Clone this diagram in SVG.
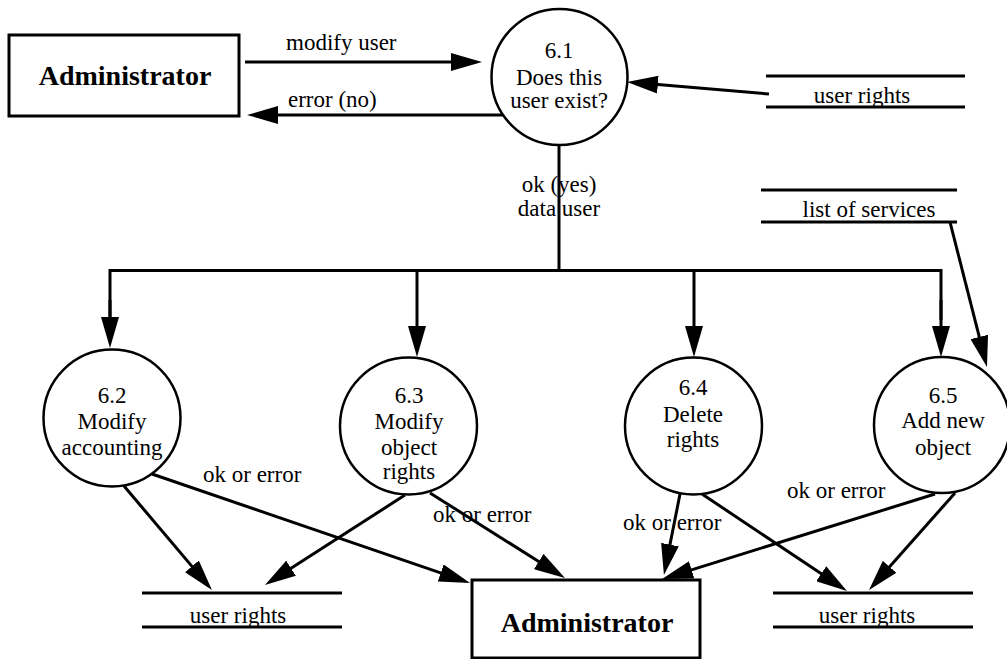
<svg xmlns="http://www.w3.org/2000/svg" width="1007" height="659" viewBox="0 0 1007 659" font-family="Liberation Serif, DejaVu Serif, serif">
  <style>
    text { font-family: 'Liberation Serif', 'DejaVu Serif', serif; font-size: 23px; fill: #000; }
    .c { text-anchor: middle; }
    .ent { font-size: 28px; font-weight: bold; text-anchor: middle; }
    .box { fill: #fff; stroke: #000; stroke-width: 3; }
    .proc { fill: #fff; stroke: #000; stroke-width: 2.5; }
    .store { stroke: #000; stroke-width: 3; }
    .flow { fill: none; stroke: #000; stroke-width: 3; }
    .arr { marker-end: url(#head); }
  </style>
  <defs>
    <marker id="head" markerUnits="userSpaceOnUse" markerWidth="31" markerHeight="18" refX="6" refY="9" orient="auto">
      <path d="M0,0 L31,9 L0,18 z" fill="#000"/>
    </marker>
  </defs>

  <!-- external entities -->
  <g id="admin-top">
    <rect class="box" x="9" y="35" width="230" height="81"/>
    <text class="ent" x="125" y="85">Administrator</text>
  </g>
  <g id="admin-bottom">
    <rect class="box" x="472" y="580" width="228" height="78"/>
    <text class="ent" x="587" y="632">Administrator</text>
  </g>

  <!-- processes -->
  <g id="p61">
    <circle class="proc" cx="559.5" cy="77" r="68"/>
    <text class="c" x="559" y="58">6.1</text>
    <text class="c" x="559" y="85">Does this</text>
    <text class="c" x="559" y="108">user exist?</text>
  </g>
  <g id="p62">
    <circle class="proc" cx="112" cy="418" r="68.5"/>
    <text class="c" x="112" y="403">6.2</text>
    <text class="c" x="112" y="429">Modify</text>
    <text class="c" x="112" y="455">accounting</text>
  </g>
  <g id="p63">
    <circle class="proc" cx="408.5" cy="426" r="68.5"/>
    <text class="c" x="409" y="403">6.3</text>
    <text class="c" x="409" y="429">Modify</text>
    <text class="c" x="409" y="455">object</text>
    <text class="c" x="409" y="479">rights</text>
  </g>
  <g id="p64">
    <circle class="proc" cx="693.5" cy="426" r="68.5"/>
    <text class="c" x="693" y="395">6.4</text>
    <text class="c" x="693" y="422">Delete</text>
    <text class="c" x="693" y="447">rights</text>
  </g>
  <g id="p65">
    <circle class="proc" cx="942" cy="425" r="68"/>
    <text class="c" x="943" y="403">6.5</text>
    <text class="c" x="943" y="428">Add new</text>
    <text class="c" x="943" y="455">object</text>
  </g>

  <!-- data stores -->
  <g id="store-rights-top">
    <line class="store" x1="766" y1="76" x2="965" y2="76"/>
    <line class="store" x1="766" y1="107" x2="965" y2="107"/>
    <text class="c" x="862" y="103">user rights</text>
  </g>
  <g id="store-services">
    <line class="store" x1="761" y1="190" x2="957" y2="190"/>
    <line class="store" x1="761" y1="222" x2="957" y2="222"/>
    <text class="c" x="869" y="217">list of services</text>
  </g>
  <g id="store-rights-left">
    <line class="store" x1="142" y1="593" x2="342" y2="593"/>
    <line class="store" x1="142" y1="627" x2="342" y2="627"/>
    <text class="c" x="238" y="623">user rights</text>
  </g>
  <g id="store-rights-right">
    <line class="store" x1="773" y1="593" x2="973" y2="593"/>
    <line class="store" x1="773" y1="627" x2="973" y2="627"/>
    <text class="c" x="867" y="623">user rights</text>
  </g>

  <!-- data flows -->
  <g id="flows">
    <line class="flow arr" x1="245" y1="62" x2="457" y2="62"/>
    <line class="flow arr" x1="503" y1="115" x2="272" y2="115"/>
    <line class="flow arr" x1="769" y1="94" x2="651.9" y2="84.1"/>

    <!-- fan-out from 6.1 -->
    <line class="flow" x1="559" y1="145" x2="559" y2="270.5"/>
    <polyline class="flow" points="110,332 110,270.5 941,270.5 941,320"/>
    <line class="flow arr" x1="110" y1="300" x2="110" y2="323"/>
    <line class="flow arr" x1="417" y1="270.5" x2="417" y2="332"/>
    <line class="flow arr" x1="694" y1="270.5" x2="694" y2="332"/>
    <line class="flow arr" x1="941" y1="300" x2="941" y2="332"/>

    <line class="flow arr" x1="950" y1="222" x2="980.8" y2="342.8"/>

    <line class="flow arr" x1="124" y1="486" x2="195.8" y2="570.9"/>
    <line class="flow arr" x1="152" y1="474" x2="446.4" y2="574.9"/>
    <line class="flow arr" x1="405" y1="495" x2="286" y2="571.5"/>
    <line class="flow arr" x1="430" y1="493" x2="543.8" y2="564.7"/>
    <line class="flow arr" x1="680" y1="494" x2="668.8" y2="550.5"/>
    <line class="flow arr" x1="702" y1="494" x2="826.2" y2="577.1"/>
    <line class="flow arr" x1="935" y1="494" x2="685.9" y2="571.6"/>
    <line class="flow arr" x1="955" y1="493" x2="885.6" y2="571.3"/>

    <text x="286" y="50">modify user</text>
    <text x="288" y="107">error (no)</text>
    <text class="c" x="559" y="192">ok (yes)</text>
    <text class="c" x="559" y="216">data user</text>
    <text x="203" y="482">ok or error</text>
    <text x="433" y="522">ok or error</text>
    <text x="623" y="530">ok or error</text>
    <text x="787" y="498">ok or error</text>
  </g>
</svg>
